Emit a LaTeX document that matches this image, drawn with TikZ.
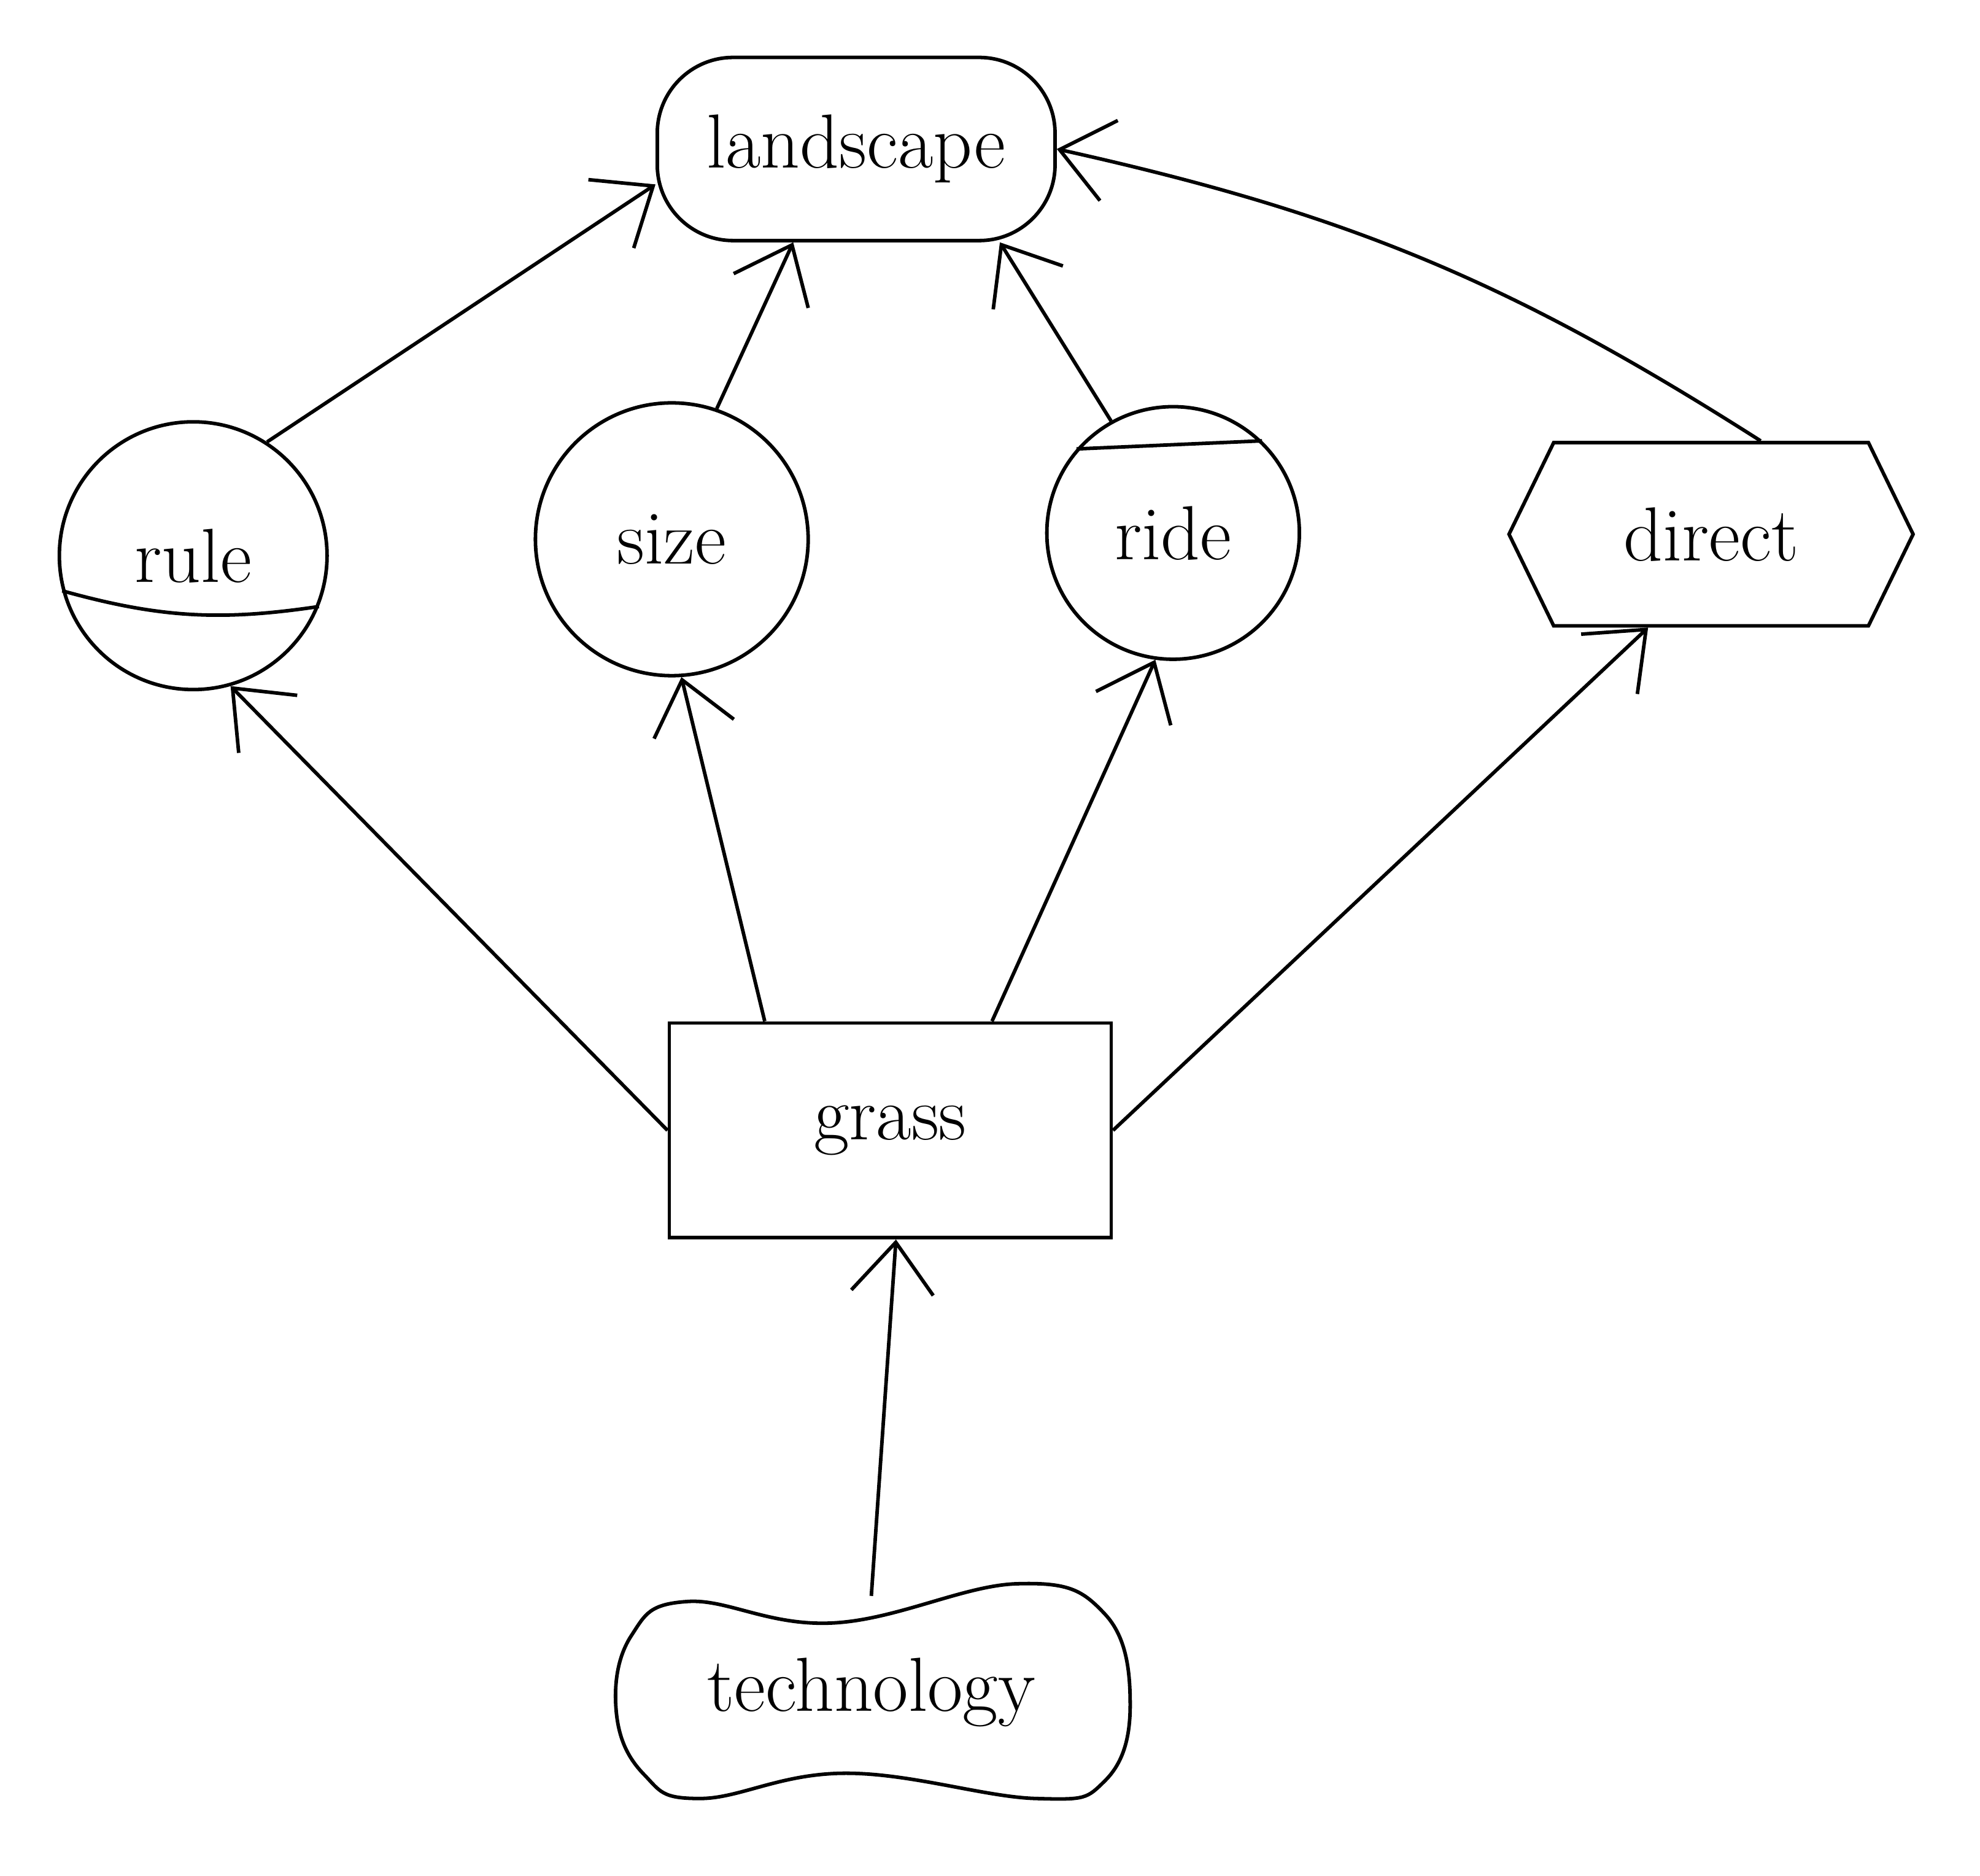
\documentclass[tikz,border=0pt]{standalone}
\usetikzlibrary{arrows.meta,shapes.misc,shapes.symbols}

\begin{document}
\begin{tikzpicture}[line width = 0.8pt, every node/.style = {draw = black, line width = 0.8pt, font = \LARGE}, >={Straight Barb[length=4mm, width=6.5mm]}]

	\useasboundingbox (0,0) rectangle (15.68,-14.85);

	\node (LS) at ( 6.78, -1.18) [rectangle, rounded corners = 0.6cm, minimum width = 3.15cm, minimum height = 1.45cm] {landscape};
	\node (RU) at ( 1.53, -4.40) [circle, minimum size = 2.12cm] {rule};
	\node (SZ) at ( 5.32, -4.27) [circle, minimum size = 2.16cm] {size};
	\node (RI) at ( 9.29, -4.22) [circle, minimum size = 2.00cm] {ride};
	\node (DI) at (13.55, -4.23) [signal, signal to = east and west, signal pointer angle = 128, minimum width = 3.2cm, minimum height = 1.45cm] {direct};
	\node (GR) at ( 7.05, -8.95) [rectangle, minimum width = 3.5cm, minimum height = 1.7cm] {grass};
	\node (TE) at ( 6.90,-13.40) [draw = none, minimum width = 4.07cm, minimum height = 1.5cm] {technology};

	% outline of technology and the chords of rule and ride
	\draw [shift = {(TE.center)}] plot [smooth cycle, tension = 0.7] coordinates {(-1.45,0.72) (-1.90,0.45) (-2.02,-0.15) (-1.80,-0.65) (-1.35,-0.84) (-0.20,-0.64) (1.30,-0.84) (1.85,-0.70) (2.05,-0.10) (1.85,0.62) (1.15,0.86) (-0.30,0.55)};
	\draw (RU.195) to [bend right = 12] (RU.-22);
	\draw (RI.139) -- (RI.46);

    \foreach \from/\to in {RU.57/LS.190, SZ.71/LS.236, RI.119/LS.-33, GR.west/RU.-74,
    GR.139/SZ.-86, GR.47/RI.-98, GR.east/DI.236, TE.north/GR.-87}
    	\path (\from) edge [->] (\to);
    \path (DI.62) edge [->, bend right = 10] (LS.east);

\end{tikzpicture}
\end{document}
